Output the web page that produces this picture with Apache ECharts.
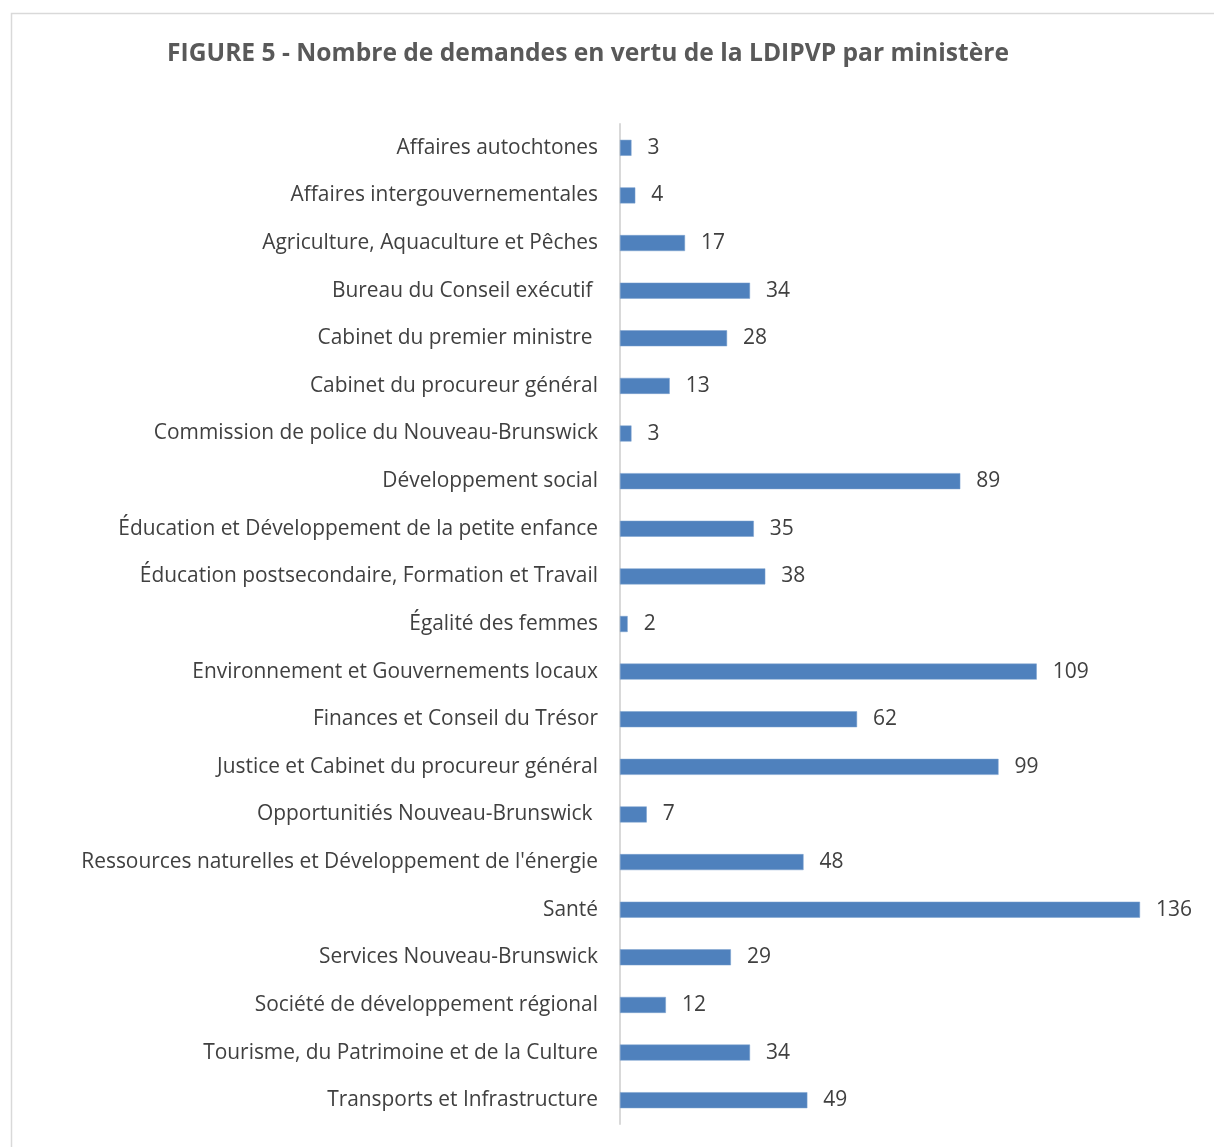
<!DOCTYPE html>
<html><head><meta charset="utf-8">
<script src="https://cdn.jsdelivr.net/npm/echarts@6/dist/echarts.min.js"></script>
<style>html,body{margin:0;padding:0;background:#fff}#c{width:1214px;height:1147px}</style>
</head><body><div id="c"></div>
<script>
const categories = [
  "Affaires autochtones",
  "Affaires intergouvernementales",
  "Agriculture, Aquaculture et Pêches",
  "Bureau du Conseil exécutif ",
  "Cabinet du premier ministre ",
  "Cabinet du procureur général",
  "Commission de police du Nouveau-Brunswick",
  "Développement social",
  "Éducation et Développement de la petite enfance",
  "Éducation postsecondaire, Formation et Travail",
  "Égalité des femmes",
  "Environnement et Gouvernements locaux",
  "Finances et Conseil du Trésor",
  "Justice et Cabinet du procureur général",
  "Opportunitiés Nouveau-Brunswick ",
  "Ressources naturelles et Développement de l'énergie",
  "Santé",
  "Services Nouveau-Brunswick",
  "Société de développement régional",
  "Tourisme, du Patrimoine et de la Culture",
  "Transports et Infrastructure"
];
const requests = [3, 4, 17, 34, 28, 13, 3, 89, 35, 38, 2, 109, 62, 99, 7, 48, 136, 29, 12, 34, 49];
const titleText = "FIGURE 5 - Nombre de demandes en vertu de la LDIPVP par ministère";

const chart = echarts.init(document.getElementById('c'));
const font = "'Open Sans', 'Liberation Sans', sans-serif";
chart.setOption({
  backgroundColor: '#ffffff',
  animation: false,
  title: {
    text: titleText,
    left: 583, top: 36, textAlign: 'center',
    textStyle: { fontFamily: font, fontSize: 24.6, fontWeight: 'bold', color: '#595959' }
  },
  graphic: [{
    type: 'rect', silent: true, z: -1,
    shape: { x: 11.5, y: 13.5, width: 1240, height: 1200 },
    style: { fill: 'none', stroke: '#d9d9d9', lineWidth: 1.5 }
  }],
  grid: { left: 620, top: 124, width: 520, height: 1000, containLabel: false },
  xAxis: {
    type: 'value', min: 0, max: 136,
    show: false
  },
  yAxis: {
    type: 'category', data: categories, inverse: true,
    axisLine: { show: true, lineStyle: { color: '#d9d9d9', width: 2 } },
    axisTick: { show: false },
    axisLabel: { margin: 22, fontFamily: font, fontSize: 20.9, color: '#404040' }
  },
  series: [{
    type: 'bar', data: requests, barWidth: 16,
    itemStyle: { color: '#4f81bd', borderColor: '#7aa0cf', borderWidth: 0.5 },
    label: { show: true, position: 'right', distance: 16, fontFamily: font, fontSize: 21, color: '#404040' }
  }]
});
</script></body></html>
